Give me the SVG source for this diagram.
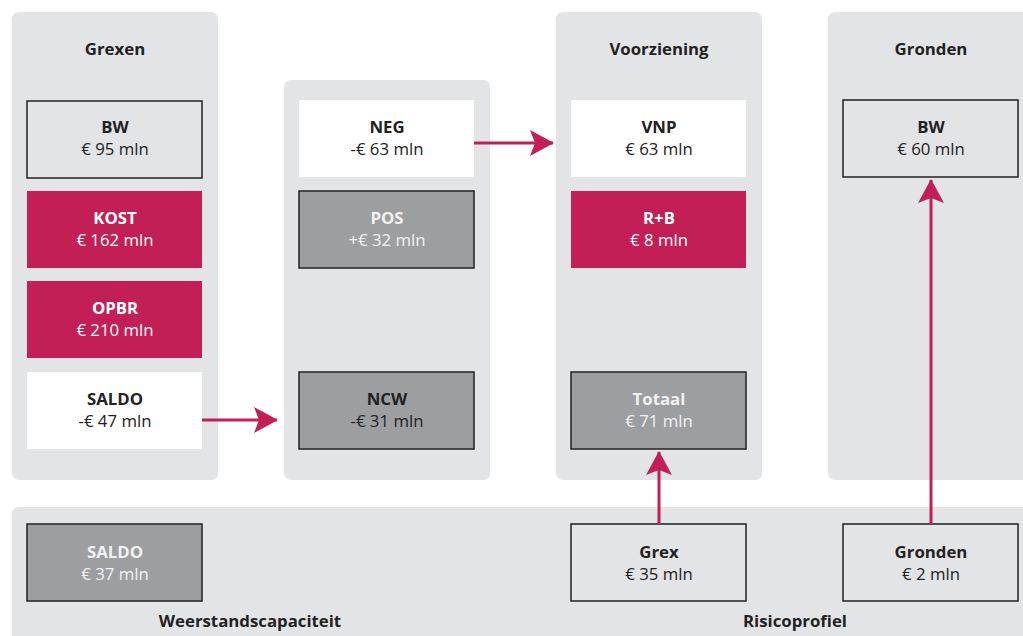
<svg xmlns="http://www.w3.org/2000/svg" width="1023" height="636" viewBox="0 0 1023 636">
<defs>
<marker id="ah" markerUnits="userSpaceOnUse" viewBox="0 0 24 26" refX="23" refY="13" markerWidth="24" markerHeight="26" orient="auto">
<path d="M0,0 L24,13 L0,26 L5,13 Z" fill="#c31f57"/>
</marker>
</defs>
<style>
.panel{fill:#e3e4e6}
.t{font-family:"Open Sans","Noto Sans",sans-serif;font-size:16.8px;text-anchor:middle}
.b{font-weight:bold}
.dk{fill:#222222}
.wt{fill:#ffffff}
.lt{fill:#f2f2f2}
.light{fill:#e3e4e6;stroke:#222;stroke-width:1.5}
.white{fill:#ffffff}
.mag{fill:#c31f57}
.grey{fill:#9d9ea0;stroke:#222;stroke-width:1.5}
.conn{stroke:#c31f57;stroke-width:3;fill:none}
</style>
<g id="panels">
<rect class="panel" x="12" y="12" width="206" height="468" rx="7"/>
<rect class="panel" x="284" y="80" width="206" height="400" rx="7"/>
<rect class="panel" x="556" y="12" width="206" height="468" rx="7"/>
<rect class="panel" x="828" y="12" width="210" height="468" rx="7"/>
<rect class="panel" x="12" y="507" width="1026" height="140" rx="7"/>
<text class="t b dk" x="115" y="55">Grexen</text>
<text class="t b dk" x="659" y="55">Voorziening</text>
<text class="t b dk" x="931" y="55">Gronden</text>
<text class="t b dk" x="250" y="627">Weerstandscapaciteit</text>
<text class="t b dk" x="795" y="627">Risicoprofiel</text>
</g>
<g id="n-bw"><rect class="light" x="27" y="101" width="175" height="77"/><text class="t b dk" x="115" y="133">BW</text><text class="t dk" x="115" y="155">€ 95 mln</text></g>
<g id="n-kost"><rect class="mag" x="27" y="191" width="175" height="77"/><text class="t b wt" x="115" y="224">KOST</text><text class="t wt" x="115" y="246">€ 162 mln</text></g>
<g id="n-opbr"><rect class="mag" x="27" y="281" width="175" height="77"/><text class="t b wt" x="115" y="314">OPBR</text><text class="t wt" x="115" y="336">€ 210 mln</text></g>
<g id="n-saldo"><rect class="white" x="27" y="372" width="175" height="77"/><text class="t b dk" x="115" y="405">SALDO</text><text class="t dk" x="115" y="427">-€ 47 mln</text></g>
<g id="n-neg"><rect class="white" x="299" y="100" width="175" height="77"/><text class="t b dk" x="387" y="133">NEG</text><text class="t dk" x="387" y="155">-€ 63 mln</text></g>
<g id="n-pos"><rect class="grey" x="299" y="191" width="175" height="77"/><text class="t b lt" x="387" y="224">POS</text><text class="t lt" x="387" y="246">+€ 32 mln</text></g>
<g id="n-ncw"><rect class="grey" x="299" y="372" width="175" height="77"/><text class="t b dk" x="387" y="405">NCW</text><text class="t dk" x="387" y="427">-€ 31 mln</text></g>
<g id="n-vnp"><rect class="white" x="571" y="100" width="175" height="77"/><text class="t b dk" x="659" y="133">VNP</text><text class="t dk" x="659" y="155">€ 63 mln</text></g>
<g id="n-rb"><rect class="mag" x="571" y="191" width="175" height="77"/><text class="t b wt" x="659" y="224">R+B</text><text class="t wt" x="659" y="246">€ 8 mln</text></g>
<g id="n-totaal"><rect class="grey" x="571" y="372" width="175" height="77"/><text class="t b lt" x="659" y="405">Totaal</text><text class="t lt" x="659" y="427">€ 71 mln</text></g>
<g id="n-bw2"><rect class="light" x="843" y="100" width="175" height="77"/><text class="t b dk" x="931" y="133">BW</text><text class="t dk" x="931" y="155">€ 60 mln</text></g>
<g id="n-wsaldo"><rect class="grey" x="27" y="524" width="175" height="77"/><text class="t b lt" x="115" y="558">SALDO</text><text class="t lt" x="115" y="580">€ 37 mln</text></g>
<g id="n-grex"><rect class="light" x="571" y="524" width="175" height="77"/><text class="t b dk" x="659" y="558">Grex</text><text class="t dk" x="659" y="580">€ 35 mln</text></g>
<g id="n-gronden"><rect class="light" x="843" y="524" width="175" height="77"/><text class="t b dk" x="931" y="558">Gronden</text><text class="t dk" x="931" y="580">€ 2 mln</text></g>
<g id="connectors">
<line class="conn" x1="202" y1="420" x2="277" y2="420" marker-end="url(#ah)"/>
<line class="conn" x1="474" y1="143" x2="553" y2="143" marker-end="url(#ah)"/>
<line class="conn" x1="659" y1="524" x2="659" y2="452" marker-end="url(#ah)"/>
<line class="conn" x1="931" y1="524" x2="931" y2="180" marker-end="url(#ah)"/>
</g>
</svg>
